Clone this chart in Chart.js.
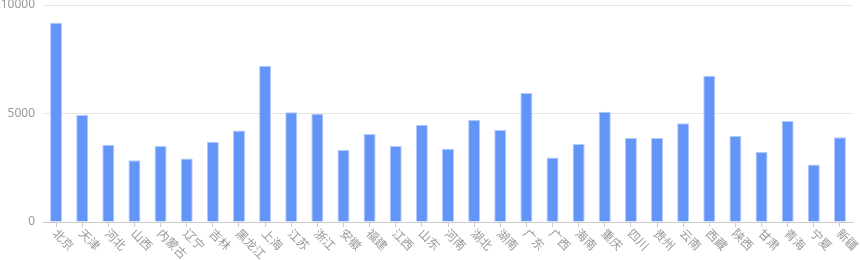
<!DOCTYPE html>
<html>
<head>
<meta charset="utf-8">
<script src="https://cdn.jsdelivr.net/npm/chart.js@4"></script>
<style>
  html, body { margin: 0; padding: 0; background: #fff; }
  #wrap { width: 860px; height: 260px; }
</style>
</head>
<body>
<div id="wrap"><canvas id="myChart"></canvas></div>
<script>
const provinces = ["北京", "天津", "河北", "山西", "内蒙古", "辽宁", "吉林", "黑龙江", "上海", "江苏", "浙江", "安徽", "福建", "江西", "山东", "河南", "湖北", "湖南", "广东", "广西", "海南", "重庆", "四川", "贵州", "云南", "西藏", "陕西", "甘肃", "青海", "宁夏", "新疆"];
const values = [9180, 4930, 3560, 2850, 3500, 2930, 3700, 4220, 7200, 5060, 4990, 3320, 4050, 3500, 4470, 3370, 4700, 4240, 5940, 2970, 3600, 5080, 3870, 3870, 4550, 6740, 3960, 3230, 4650, 2650, 3910];
const yTicks = [0, 5000, 10000];

const labelFont = '12px "Noto Sans CJK SC", "DejaVu Sans", sans-serif';
const labelColor = "#999";

// x labels run down-right from each tick, so draw them ourselves
const slantLabels = {
  id: "slantLabels",
  afterDraw: (chart) => {
    const xScale = chart.scales.x;
    const ctx = chart.ctx;
    ctx.save();
    ctx.font = labelFont;
    ctx.fillStyle = labelColor;
    ctx.textAlign = "left";
    ctx.textBaseline = "middle";
    xScale.ticks.forEach((tick, i) => {
      const x = xScale.getPixelForTick(i) - 1;
      const y = xScale.bottom + 4;
      ctx.save();
      ctx.translate(x, y);
      ctx.rotate(Math.PI / 4);
      ctx.fillText(provinces[i], 0, 0);
      ctx.restore();
    });
    ctx.restore();
  },
};

const config = {
  type: "bar",
  data: {
    labels: provinces,
    datasets: [
      {
        data: values,
        backgroundColor: "#6394f8",
        borderColor: "#b3cbfb",
        borderWidth: 1,
        categoryPercentage: 1,
        barPercentage: 0.46,
      },
    ],
  },
  options: {
    responsive: true,
    maintainAspectRatio: false,
    animation: false,
    layout: { padding: { left: 0, right: 7, top: 5, bottom: 33 } },
    plugins: { legend: { display: false }, tooltip: { enabled: false } },
    scales: {
      x: {
        grid: {
          offset: false,
          drawOnChartArea: false,
          drawTicks: true,
          tickLength: 5,
          color: "#ccc",
        },
        border: { color: "#ccc" },
        ticks: { display: false },
        afterFit: (scale) => {
          scale.paddingLeft = 0;
          scale.paddingRight = 0;
        },
      },
      y: {
        min: 0,
        max: 10000,
        afterBuildTicks: (scale) => {
          scale.ticks = yTicks.map((v) => ({ value: v }));
        },
        afterFit: (scale) => {
          scale.width = 43;
          scale.paddingTop = 0;
          scale.paddingBottom = 0;
        },
        grid: { color: "#e6e6e6", drawTicks: false },
        border: { display: false },
        ticks: {
          padding: 8,
          color: labelColor,
          font: { family: '"Noto Sans", "DejaVu Sans", sans-serif', size: 12 },
          callback: (v) => String(v),
        },
      },
    },
  },
  plugins: [slantLabels],
};

const myChart = new Chart(document.getElementById("myChart"), config);
</script>
</body>
</html>
